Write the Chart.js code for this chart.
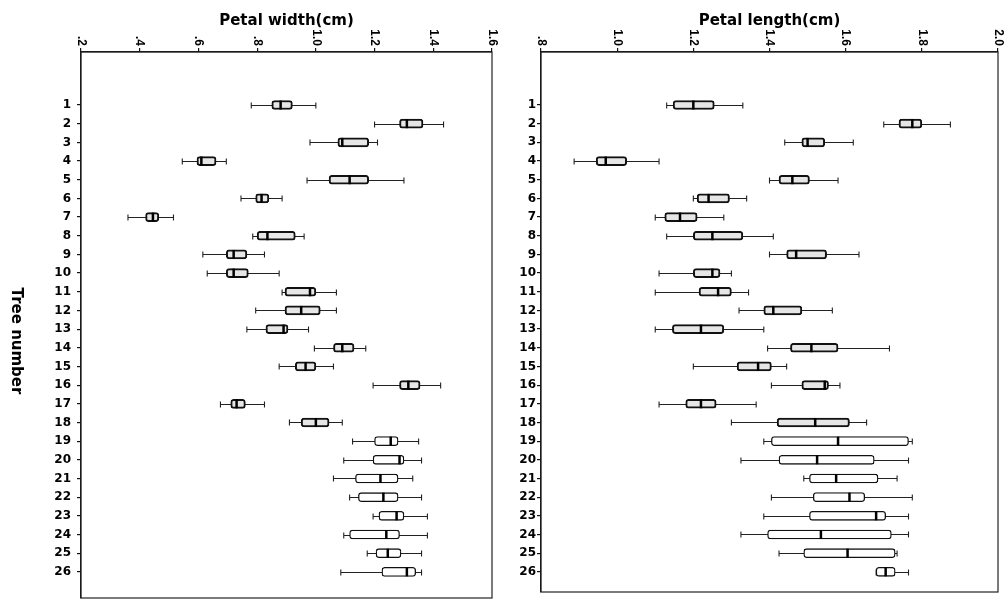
<!DOCTYPE html>
<html>
<head>
<meta charset="utf-8">
<script src="https://cdn.jsdelivr.net/npm/chart.js@4.4.1/dist/chart.umd.min.js"></script>
<style>
  body { margin: 0; background: #fff; }
  #wrap { position: relative; width: 1007px; height: 601px; }
  canvas { position: absolute; top: 0; }
</style>
</head>
<body>
<div id="wrap">
  <canvas id="petalWidth" width="505" height="601" style="left:0;width:505px;height:601px"></canvas>
  <canvas id="petalLength" width="502" height="601" style="left:505px;width:502px;height:601px"></canvas>
</div>
<script>
const trees = [1,2,3,4,5,6,7,8,9,10,11,12,13,14,15,16,17,18,19,20,21,22,23,24,25,26];

// petal width (cm)
const widthLow  = [0.78,1.20,0.98,0.545,0.97,0.745,0.36,0.785,0.615,0.63,0.885,0.795,0.765,0.995,0.875,1.195,0.675,0.91,1.125,1.095,1.06,1.115,1.195,1.095,1.175,1.085];
const widthQ1   = [0.85,1.285,1.075,0.595,1.045,0.795,0.42,0.80,0.695,0.695,0.895,0.895,0.83,1.06,0.93,1.285,0.71,0.95,1.20,1.195,1.135,1.145,1.215,1.115,1.205,1.225];
const widthMed  = [0.88,1.31,1.09,0.61,1.115,0.815,0.445,0.835,0.72,0.72,0.98,0.95,0.89,1.09,0.965,1.315,0.73,1.00,1.255,1.285,1.22,1.23,1.275,1.24,1.245,1.31];
const widthQ3   = [0.92,1.365,1.18,0.66,1.18,0.84,0.465,0.93,0.765,0.77,1.00,1.015,0.905,1.13,1.00,1.355,0.76,1.045,1.28,1.30,1.28,1.28,1.30,1.285,1.29,1.34];
const widthHigh = [1.00,1.435,1.21,0.695,1.30,0.885,0.515,0.96,0.825,0.875,1.07,1.07,0.975,1.17,1.06,1.425,0.825,1.09,1.35,1.36,1.33,1.36,1.38,1.38,1.36,1.36];
const widthTicks = [0.2,0.4,0.6,0.8,1.0,1.2,1.4,1.6];
const widthTickLabels = ['.2','.4','.6','.8','1.0','1.2','1.4','1.6'];

// petal length (cm)
const lengthLow  = [1.13,1.70,1.44,0.887,1.40,1.20,1.10,1.13,1.40,1.11,1.10,1.32,1.10,1.395,1.20,1.405,1.11,1.30,1.385,1.325,1.49,1.405,1.385,1.325,1.425,1.68];
const lengthQ1   = [1.147,1.74,1.485,0.945,1.425,1.21,1.125,1.20,1.445,1.20,1.215,1.385,1.145,1.455,1.315,1.485,1.18,1.42,1.405,1.425,1.505,1.515,1.505,1.395,1.49,1.68];
const lengthMed  = [1.20,1.775,1.50,0.97,1.46,1.24,1.165,1.25,1.47,1.25,1.265,1.41,1.22,1.51,1.37,1.545,1.22,1.52,1.58,1.525,1.575,1.61,1.68,1.535,1.605,1.705];
const lengthQ3   = [1.255,1.80,1.545,1.025,1.505,1.295,1.21,1.33,1.55,1.27,1.30,1.485,1.28,1.58,1.405,1.555,1.26,1.61,1.765,1.675,1.685,1.65,1.705,1.72,1.73,1.73];
const lengthHigh = [1.33,1.875,1.62,1.11,1.58,1.34,1.28,1.41,1.635,1.30,1.345,1.565,1.385,1.715,1.445,1.585,1.365,1.655,1.775,1.765,1.735,1.775,1.765,1.765,1.735,1.765];
const lengthTicks = [0.8,1.0,1.2,1.4,1.6,1.8,2.0];
const lengthTickLabels = ['.8','1.0','1.2','1.4','1.6','1.8','2.0'];

// whiskers, medians, frame, rotated labels
const boxExtras = {
  id: 'boxExtras',
  beforeDatasetsDraw(chart, args, o) {
    const { ctx, scales: { x, y } } = chart;
    ctx.save();
    ctx.strokeStyle = '#222';
    ctx.lineWidth = 1.1;
    trees.forEach((t, i) => {
      const py = Math.round(y.getPixelForValue(t)) + 0.5;
      const a = x.getPixelForValue(o.low[i]);
      const b = x.getPixelForValue(o.high[i]);
      ctx.beginPath();
      ctx.moveTo(a, py); ctx.lineTo(b, py);
      ctx.moveTo(a, py - 3); ctx.lineTo(a, py + 3);
      ctx.moveTo(b, py - 3); ctx.lineTo(b, py + 3);
      ctx.stroke();
    });
    ctx.restore();
  },
  afterDatasetsDraw(chart, args, o) {
    const { ctx, chartArea: ca, scales: { x, y } } = chart;
    ctx.save();
    // medians
    ctx.strokeStyle = '#000';
    ctx.lineWidth = 2.5;
    trees.forEach((t, i) => {
      const py = y.getPixelForValue(t);
      const m = x.getPixelForValue(o.med[i]);
      ctx.beginPath();
      ctx.moveTo(m, py - 4.5); ctx.lineTo(m, py + 4.5);
      ctx.stroke();
    });
    // frame
    ctx.lineWidth = 1.2;
    ctx.strokeStyle = '#222';
    ctx.strokeRect(ca.left, ca.top, ca.right - ca.left, ca.bottom - ca.top);
    // x tick labels, turned clockwise
    ctx.fillStyle = '#000';
    ctx.font = 'bold 12px "Liberation Sans", Arial, sans-serif';
    ctx.textAlign = 'right';
    ctx.textBaseline = 'middle';
    o.ticks.forEach((v, i) => {
      ctx.save();
      ctx.translate(x.getPixelForValue(v), ca.top - 6);
      ctx.rotate(Math.PI / 2);
      ctx.fillText(o.tickLabels[i], 0, 0);
      ctx.restore();
    });
    // panel title
    ctx.font = 'bold 15px "DejaVu Sans", sans-serif';
    ctx.textAlign = 'center';
    ctx.fillText(o.title, (ca.left + ca.right) / 2, 21);
    // y axis title
    if (o.yTitle) {
      ctx.save();
      ctx.translate(16, 341);
      ctx.rotate(Math.PI / 2);
      ctx.fillText(o.yTitle, 0, 0);
      ctx.restore();
    }
    ctx.restore();
  }
};

function makeChart(id, p) {
  const ctx = document.getElementById(id).getContext('2d');
  return new Chart(ctx, {
    type: 'bar',
    data: {
      datasets: [{
        data: trees.map((t, i) => ({ y: t, x: [p.q1[i], p.q3[i]] })),
        backgroundColor: trees.map(t => t <= 18 ? '#e6e6e6' : '#ffffff'),
        borderColor: '#111',
        borderWidth: trees.map(t => t <= 18 ? 2 : 1.3),
        borderSkipped: false,
        borderRadius: 3,
        barThickness: 9
      }]
    },
    options: {
      indexAxis: 'y',
      responsive: false,
      animation: false,
      layout: { padding: p.padding },
      plugins: {
        legend: { display: false },
        tooltip: { enabled: false },
        boxExtras: {
          low: p.low, high: p.high, med: p.med,
          ticks: p.ticks, tickLabels: p.tickLabels,
          title: p.title, yTitle: p.yTitle
        }
      },
      scales: {
        x: {
          type: 'linear',
          position: 'top',
          min: p.ticks[0],
          max: p.ticks[p.ticks.length - 1],
          afterBuildTicks: s => { s.ticks = p.ticks.map(v => ({ value: v })); },
          afterFit: s => { s.height = 0; s.paddingLeft = 0; s.paddingRight = 0; },
          ticks: { display: false },
          grid: { drawOnChartArea: false, tickLength: 4, color: '#111', lineWidth: 1.2 },
          border: { color: '#111', width: 1.2 }
        },
        y: {
          type: 'linear',
          position: 'left',
          reverse: true,
          offset: false,
          min: -1.84,
          max: p.yMax,
          afterBuildTicks: s => { s.ticks = trees.map(v => ({ value: v })); },
          afterFit: s => { s.width = p.axisW; s.paddingTop = 0; s.paddingBottom = 0; },
          ticks: {
            display: true,
            autoSkip: false,
            padding: p.labelPad,
            color: '#000',
            font: { family: '"DejaVu Sans", sans-serif', size: 12, weight: 'bold' },
            callback: v => String(v)
          },
          grid: { offset: false, drawOnChartArea: false, tickLength: 4, color: '#111', lineWidth: 1.2 },
          border: { color: '#111', width: 1.2 }
        }
      }
    },
    plugins: [boxExtras]
  });
}

makeChart('petalWidth', {
  low: widthLow, q1: widthQ1, med: widthMed, q3: widthQ3, high: widthHigh,
  ticks: widthTicks, tickLabels: widthTickLabels,
  title: 'Petal width(cm)', yTitle: 'Tree number',
  padding: { left: 0, top: 52, right: 13, bottom: 3 },
  axisW: 81, yMax: 27.4, labelPad: 6
});

makeChart('petalLength', {
  low: lengthLow, q1: lengthQ1, med: lengthMed, q3: lengthQ3, high: lengthHigh,
  ticks: lengthTicks, tickLabels: lengthTickLabels,
  title: 'Petal length(cm)', yTitle: null,
  padding: { left: 0, top: 52, right: 9, bottom: 9 },
  axisW: 36, yMax: 27.08, labelPad: 1
});
</script>
</body>
</html>
